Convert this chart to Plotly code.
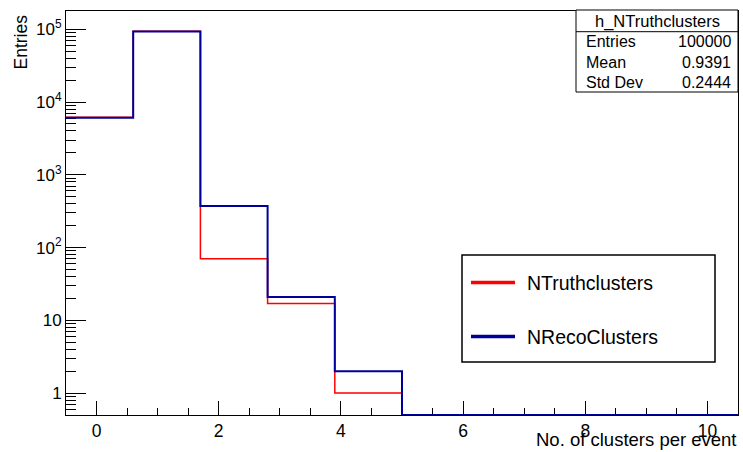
import math
import plotly.graph_objects as go

# ---- data ----
bin_edges = [-0.5, 0.6, 1.7, 2.8, 3.9, 5.0, 6.1, 7.2, 8.3, 9.4, 10.5]
n_truth = [6197, 93715, 70, 17, 1, 0, 0, 0, 0, 0]
n_reco = [6100, 93517, 372, 21, 2, 0, 0, 0, 0, 0]
y_tick_vals = [1, 10, 100, 1000, 10000, 100000]
y_tick_text = ["1", "10", "10<sup>2</sup>", "10<sup>3</sup>", "10<sup>4</sup>", "10<sup>5</sup>"]
stats_title = "h_NTruthclusters"
stats_names = ["Entries", "Mean", "Std Dev"]
stats_values = ["100000", "0.9391", "0.2444"]
legend_names = ["NTruthclusters", "NRecoClusters"]

RED = "#ff0000"
BLUE = "#000099"
FONT = "Liberation Sans, Arial, sans-serif"

W, H = 743, 452
L, R, T, B = 66, 738, 11, 415
YMIN_LOG, YMAX_LOG = -0.301, 5.251
ymin = 10 ** YMIN_LOG


def px(x):
    return (x - L) / (R - L)


def py(y):
    return (B - y) / (B - T)


def step(vals):
    ys = [max(v, ymin) for v in vals]
    return bin_edges, ys + [ys[-1]]


fig = go.Figure()
for vals, col, w in [(n_truth, RED, 1.5), (n_reco, BLUE, 2.0)]:
    xs, ys = step(vals)
    fig.add_trace(go.Scatter(x=xs, y=ys, mode="lines", line=dict(color=col, width=w, shape="hv"),
                             showlegend=False, hoverinfo="skip", cliponaxis=False))

minor_y = [k * 10 ** d for d in range(-1, 6) for k in range(2, 10)
           if YMIN_LOG < math.log10(k * 10 ** d) < YMAX_LOG]

fig.update_layout(
    width=W, height=H,
    margin=dict(l=L, r=W - R, t=T, b=H - B),
    paper_bgcolor="white", plot_bgcolor="white",
    font=dict(family=FONT, color="black", size=16),
    xaxis=dict(range=[bin_edges[0], bin_edges[-1]], showgrid=False, zeroline=False,
               showline=True, linecolor="black", linewidth=1, mirror=True,
               ticks="inside", ticklen=14, tickcolor="black", dtick=2, tick0=0,
               minor=dict(ticks="inside", ticklen=7, dtick=0.5, tickcolor="black", showgrid=False),
               tickfont=dict(size=17.5), layer="below traces"),
    yaxis=dict(type="log", range=[YMIN_LOG, YMAX_LOG], showgrid=False, zeroline=False,
               showline=True, linecolor="black", linewidth=1, mirror=True,
               ticks="inside", ticklen=20, tickcolor="black",
               tickmode="array", tickvals=y_tick_vals, ticktext=y_tick_text,
               minor=dict(ticks="inside", ticklen=10, tickmode="array", tickvals=minor_y,
                          tickcolor="black", showgrid=False),
               tickfont=dict(size=17), layer="below traces"),
)

shapes = []
ann = []
# axis titles
ann.append(dict(text="Entries", xref="paper", yref="paper", x=px(20), y=py(12), xanchor="center",
                yanchor="top", textangle=-90, showarrow=False, font=dict(size=17.5)))
ann.append(dict(text="No. of clusters per event", xref="paper", yref="paper", x=px(739), y=py(439),
                xanchor="right", yanchor="middle", showarrow=False, font=dict(size=18.5)))

# stats box
sx0, sx1, sy0, sy1, sy_mid = 576, 738, 10, 92, 31.7
shapes.append(dict(type="rect", xref="paper", yref="paper", x0=px(sx0), x1=px(sx1), y0=py(sy1), y1=py(sy0),
                   line=dict(color="black", width=1), fillcolor="white"))
shapes.append(dict(type="line", xref="paper", yref="paper", x0=px(sx0), x1=px(sx1), y0=py(sy_mid), y1=py(sy_mid),
                   line=dict(color="black", width=1)))
ann.append(dict(text=stats_title, xref="paper", yref="paper", x=px((sx0 + sx1) / 2), y=py(21),
                xanchor="center", yanchor="middle", showarrow=False, font=dict(size=16.5)))
for i, (n, v) in enumerate(zip(stats_names, stats_values)):
    yy = 42 + i * 20
    ann.append(dict(text=n, xref="paper", yref="paper", x=px(584), y=py(yy), xanchor="left",
                    yanchor="middle", showarrow=False, font=dict(size=16)))
    ann.append(dict(text=v, xref="paper", yref="paper", x=px(733), y=py(yy), xanchor="right",
                    yanchor="middle", showarrow=False, font=dict(size=16)))

# legend box
lx0, lx1, ly0, ly1 = 462, 715, 255, 362
shapes.append(dict(type="rect", xref="paper", yref="paper", x0=px(lx0), x1=px(lx1), y0=py(ly1), y1=py(ly0),
                   line=dict(color="black", width=1.5), fillcolor="white"))
for name, col, yy in [(legend_names[0], RED, 282.5), (legend_names[1], BLUE, 336.5)]:
    shapes.append(dict(type="line", xref="paper", yref="paper", x0=px(471), x1=px(515), y0=py(yy), y1=py(yy),
                       line=dict(color=col, width=3.5)))
    ann.append(dict(text=name, xref="paper", yref="paper", x=px(525), y=py(yy), xanchor="left",
                    yanchor="middle", showarrow=False, font=dict(size=19.5)))

fig.update_layout(shapes=shapes, annotations=ann)
fig.write_html("out.html", config={"displayModeBar": False},
               post_script="document.body.style.margin='0';document.body.style.overflow='hidden';")
